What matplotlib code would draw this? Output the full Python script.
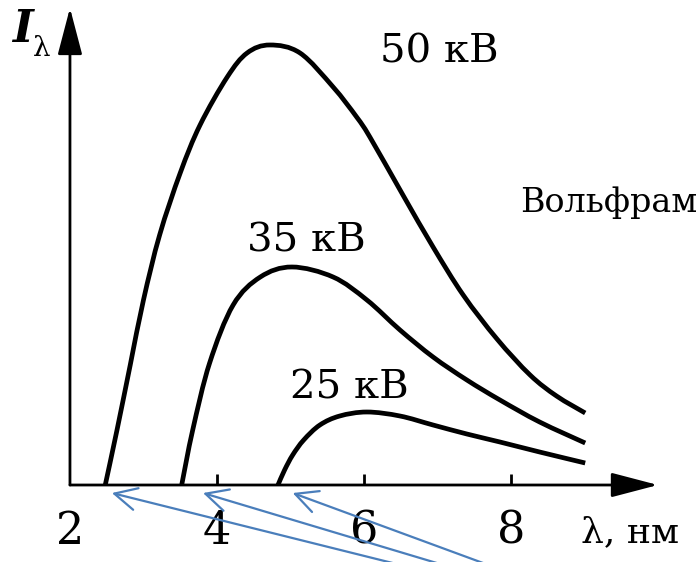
import matplotlib.pyplot as plt
from matplotlib.path import Path
from matplotlib.patches import PathPatch

plt.rcParams['font.family'] = ['DejaVu Serif']

# кривые (lambda в нм, I в усл. ед.)
lam_50 = [2.48, 2.64, 2.82, 3.00, 3.22, 3.50, 3.77, 4.14, 4.41, 4.72, 5.13, 5.58, 5.90, 6.08, 6.53, 6.94, 7.35, 7.81, 8.26, 8.62, 9.01]
I_50 = [0.0, 0.55, 1.20, 1.85, 2.50, 3.12, 3.60, 4.08, 4.32, 4.40, 4.32, 3.98, 3.68, 3.48, 2.90, 2.38, 1.90, 1.46, 1.10, 0.89, 0.72]

lam_35 = [3.52, 3.67, 3.90, 4.22, 4.59, 5.02, 5.58, 6.04, 6.49, 6.94, 7.40, 7.85, 8.39, 9.01]
I_35 = [0.0, 0.55, 1.22, 1.80, 2.08, 2.18, 2.08, 1.85, 1.55, 1.28, 1.05, 0.85, 0.63, 0.42]

lam_25 = [4.83, 4.92, 5.03, 5.18, 5.40, 5.67, 6.04, 6.49, 6.94, 7.40, 7.85, 8.39, 9.01]
I_25 = [0.0, 0.15, 0.30, 0.45, 0.60, 0.69, 0.73, 0.69, 0.60, 0.51, 0.43, 0.33, 0.22]

tick_pos = [2, 4, 6, 8]
tick_labels = ["2", "4", "6", "8"]

# подписи кривых
labels = ["50 кВ", "35 кВ", "25 кВ", "Вольфрам"]
label_x = [7.02, 5.21, 5.80, 9.33]
label_y = [4.33, 2.44, 0.97, 2.82]
label_size = [29, 29, 29, 24]

# синие стрелки: начала кривых
arrow_heads = [2.57, 3.81, 5.03]
arrow_tails = [6.39, 6.99, 7.62]


def smooth_path(xs, ys):
    # гладкая линия через точки (Catmull-Rom -> кубические Безье)
    pts = list(zip(xs, ys))
    verts = [pts[0]]
    codes = [Path.MOVETO]
    n = len(pts)
    for i in range(n - 1):
        p0 = pts[i - 1] if i > 0 else pts[i]
        p1 = pts[i]
        p2 = pts[i + 1]
        p3 = pts[i + 2] if i + 2 < n else pts[i + 1]
        c1 = (p1[0] + (p2[0] - p0[0]) / 6, p1[1] + (p2[1] - p0[1]) / 6)
        c2 = (p2[0] - (p3[0] - p1[0]) / 6, p2[1] - (p3[1] - p1[1]) / 6)
        verts += [c1, c2, p2]
        codes += [Path.CURVE4] * 3
    return Path(verts, codes)


fig = plt.figure(figsize=(6.99, 5.62), dpi=100)
ax = fig.add_axes([0.1001, 0.137, 0.8412, 0.8488])
ax.set_xlim(2, 10)
ax.set_ylim(0, 4.77)

for s in ax.spines.values():
    s.set_visible(False)

for xs, ys in [(lam_50, I_50), (lam_35, I_35), (lam_25, I_25)]:
    ax.add_patch(PathPatch(smooth_path(xs, ys), fill=False, edgecolor='black',
                           lw=3.4, capstyle='butt', joinstyle='round'))

# оси со стрелками
axis_arrow = dict(arrowstyle='-|>,head_length=1.45,head_width=0.38', color='black',
                  lw=2.0, mutation_scale=20, shrinkA=0, shrinkB=0)
ax.annotate('', xy=(10, 0), xytext=(2, 0), arrowprops=axis_arrow, annotation_clip=False)
ax.annotate('', xy=(2, 4.77), xytext=(2, 0), arrowprops=axis_arrow, annotation_clip=False)

ax.set_xticks(tick_pos[1:])
ax.set_xticklabels([])
ax.tick_params(axis='x', direction='in', length=8, width=2, color='black')
ax.set_yticks([])
for x, t in zip(tick_pos, tick_labels):
    ax.text(x, -0.46, t, ha='center', va='center', fontsize=32, clip_on=False)
ax.text(9.62, -0.47, "λ, нм", ha='center', va='center', fontsize=26, clip_on=False)
ax.text(1.35, 4.55, "I", ha='center', va='center', fontsize=32, style='italic',
        weight='bold', clip_on=False)
ax.text(1.62, 4.36, "λ", ha='center', va='center', fontsize=20, clip_on=False)

for t, x, y, fs in zip(labels, label_x, label_y, label_size):
    ax.text(x, y, t, ha='center', va='center', fontsize=fs)

for h, t in zip(arrow_heads, arrow_tails):
    ax.annotate('', xy=(h, -0.08), xytext=(t, -0.78),
                arrowprops=dict(arrowstyle='->,head_length=0.8,head_width=0.4', color='#4a7ebb',
                                lw=1.6, mutation_scale=20, shrinkA=0, shrinkB=0),
                annotation_clip=False)

fig.savefig('out.png', dpi=100)
